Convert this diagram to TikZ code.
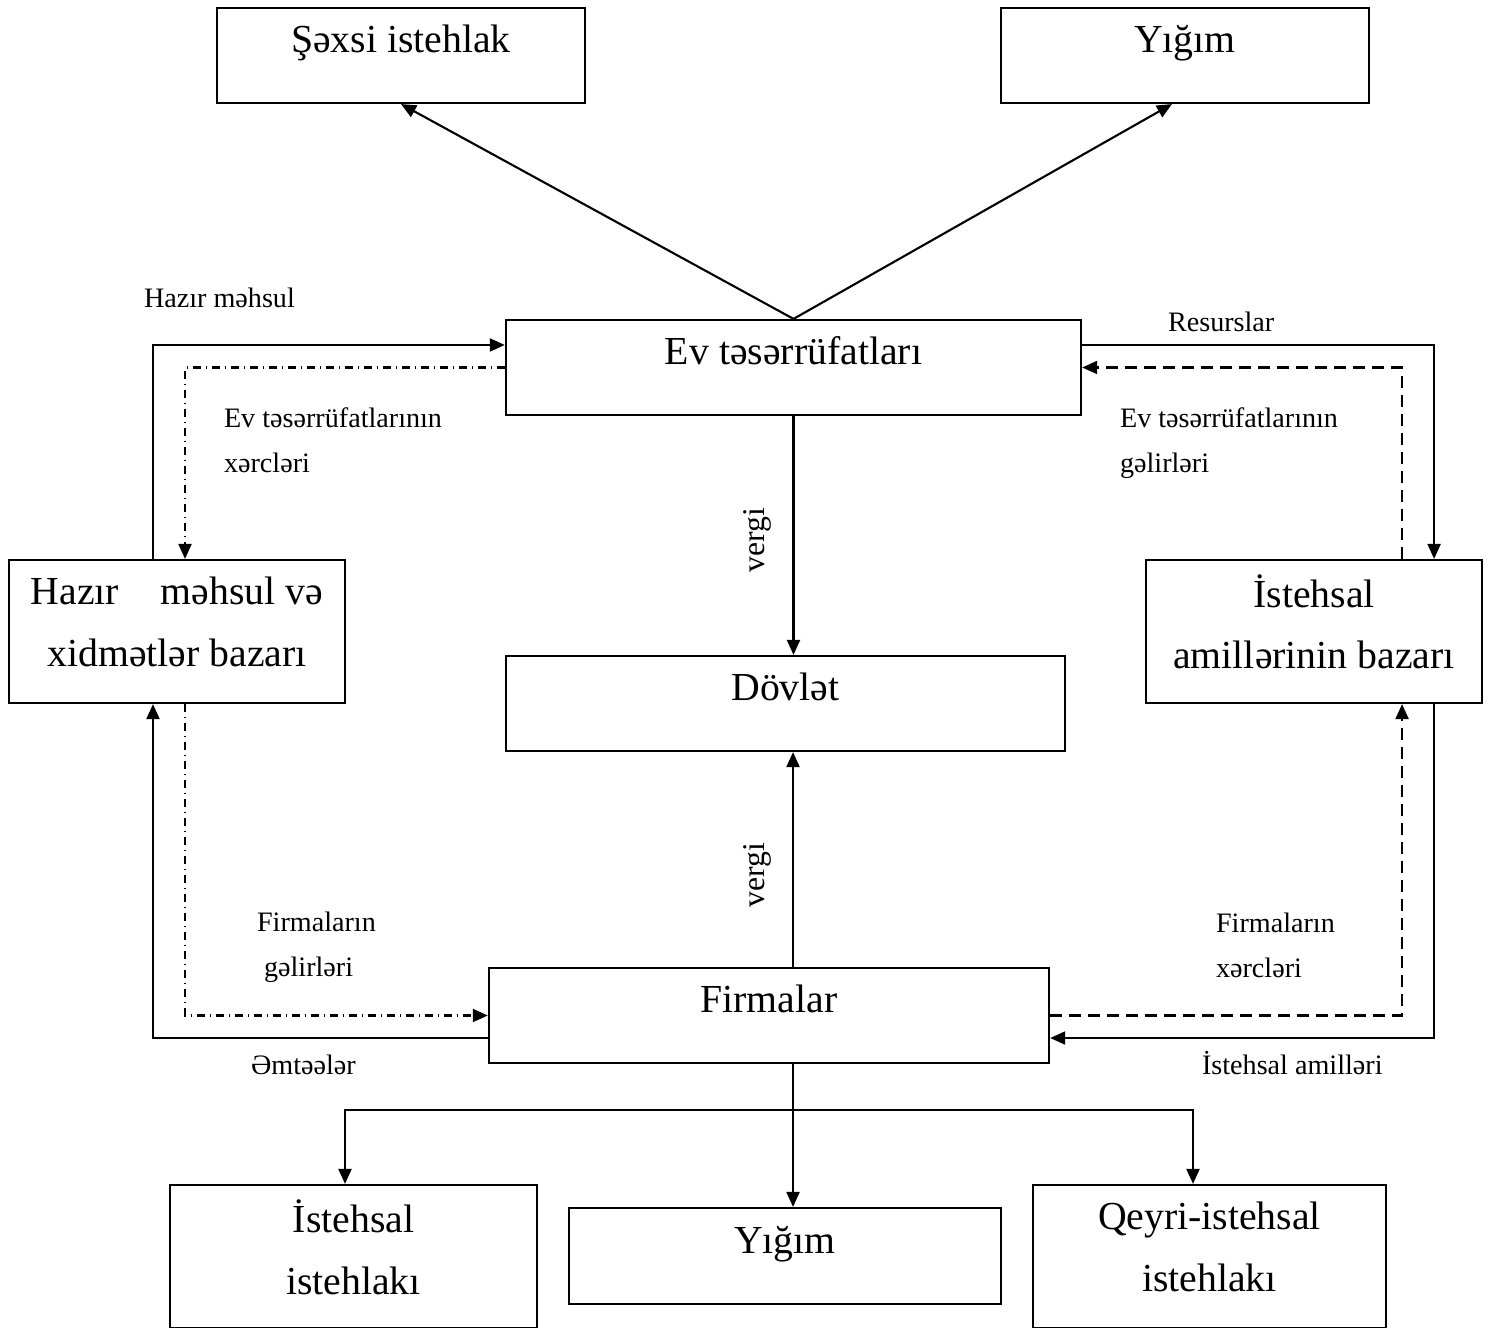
\documentclass[tikz,border=0pt]{standalone}
\usepackage{fontspec}
\setmainfont{Liberation Serif}
\usepackage{tikz}
\usetikzlibrary{arrows.meta, positioning}

\begin{document}
\begin{tikzpicture}[x=0.01cm, y=-0.01cm, line width=0.6pt,
    box/.style={draw, text height=8pt, text depth=9.5pt,
      font=\fontsize{11.3}{17.6}\selectfont},
    tallbox/.style={draw, align=center, minimum height=1.43cm, text depth=5.6pt,
      font=\fontsize{11.3}{17.6}\selectfont},
    small/.style={font=\fontsize{8}{12.8}\selectfont, align=left, anchor=west, inner sep=0pt},
    arr/.style={-{Triangle[length=1.5mm, width=1.3mm]}},
    dashdotline/.style={dash pattern=on 0.08cm off 0.05cm on 0.01cm off 0.05cm},
    dashedline/.style={dash pattern=on 0.12cm off 0.07cm}]
  \useasboundingbox (0,0) rectangle (1494,1328);

  \node[box, minimum width=3.68cm, minimum height=0.95cm] (sexsi) at (401,55.5) {Şəxsi istehlak};
  \node[box, minimum width=3.68cm, minimum height=0.95cm] (yigimtop) at (1185,55.5) {Yığım};
  \node[box, minimum width=5.75cm, minimum height=0.95cm] (ev) at (793.5,367.5) {Ev təsərrüfatları};
  \node[tallbox, minimum width=3.36cm] (hazir) at (177,631.5) {Hazır\hspace{0.8em} məhsul və\\xidmətlər bazarı};
  \node[tallbox, minimum width=3.36cm] (amil) at (1314,631.5) {İstehsal\\amillərinin bazarı};
  \node[box, minimum width=5.59cm, minimum height=0.95cm] (dovlet) at (785.5,703.5) {Dövlət};
  \node[box, minimum width=5.60cm, minimum height=0.95cm] (firma) at (769,1015.5) {Firmalar};
  \node[tallbox, minimum width=3.67cm] (istehsal) at (353.5,1256.5) {İstehsal\\istehlakı};
  \node[box, minimum width=4.32cm, minimum height=0.96cm] (yigimbot) at (785,1256) {Yığım};
  \node[tallbox, minimum width=3.53cm] (qeyri) at (1209.5,1256.5) {Qeyri-istehsal\\istehlakı};

  \draw[arr] (ev.north) -- (sexsi.south);
  \draw[arr] (ev.north) -- ([xshift=-0.13cm]yigimtop.south);

  \draw[arr] (ev.south) -- (ev.south |- dovlet.north);
  \node[font=\fontsize{9}{11}\selectfont, rotate=90] (vergi1) at (757,540) {vergi};
  \coordinate (fn) at ([xshift=0.24cm]firma.north);
  \draw[arr] (fn) -- (fn |- dovlet.south);
  \node[font=\fontsize{9}{11}\selectfont, rotate=90] (vergi2) at (757,875) {vergi};

  \draw[arr] ([xshift=-0.24cm]hazir.north) |- ([yshift=0.225cm]ev.west);
  \draw[arr, dashdotline] (ev.west) -| ([xshift=0.08cm]hazir.north);
  \draw[arr] ([yshift=0.225cm]ev.east) -| ([xshift=1.2cm]amil.north);
  \draw[arr, dashedline] ([xshift=0.88cm]amil.north) |- (ev.east);

  \draw[arr] ([yshift=-0.225cm]firma.west) -| ([xshift=-0.24cm]hazir.south);
  \draw[arr, dashdotline] ([xshift=0.08cm]hazir.south) |- (firma.west);
  \draw[arr] ([xshift=1.2cm]amil.south) |- ([yshift=-0.225cm]firma.east);
  \draw[arr, dashedline] (firma.east) -| ([xshift=0.88cm]amil.south);

  \node[small] (hm) at (143,298) {Hazır məhsul};
  \node[small] (evx) at (223,440.5) {Ev təsərrüfatlarının\\xərcləri};
  \node[small] (res) at (1167,322) {Resurslar};
  \node[small] (evg) at (1119,443) {Ev təsərrüfatlarının\\gəlirləri};
  \node[small] (fg) at (256,947) {Firmaların\\\ gəlirləri};
  \node[small] (fx) at (1215,945.5) {Firmaların\\xərcləri};
  \node[small] (emt) at (250,1065) {Əmtəələr};
  \node[small] (ia) at (1201,1063) {İstehsal amilləri};

  \coordinate (fs) at ([xshift=0.24cm]firma.south);
  \coordinate (split) at (793,1110);
  \draw[arr] (fs) -- (fs |- yigimbot.north);
  \draw[arr] (split) -| ([xshift=-0.085cm]istehsal.north);
  \draw[arr] (split) -| ([xshift=-0.165cm]qeyri.north);
\end{tikzpicture}
\end{document}
